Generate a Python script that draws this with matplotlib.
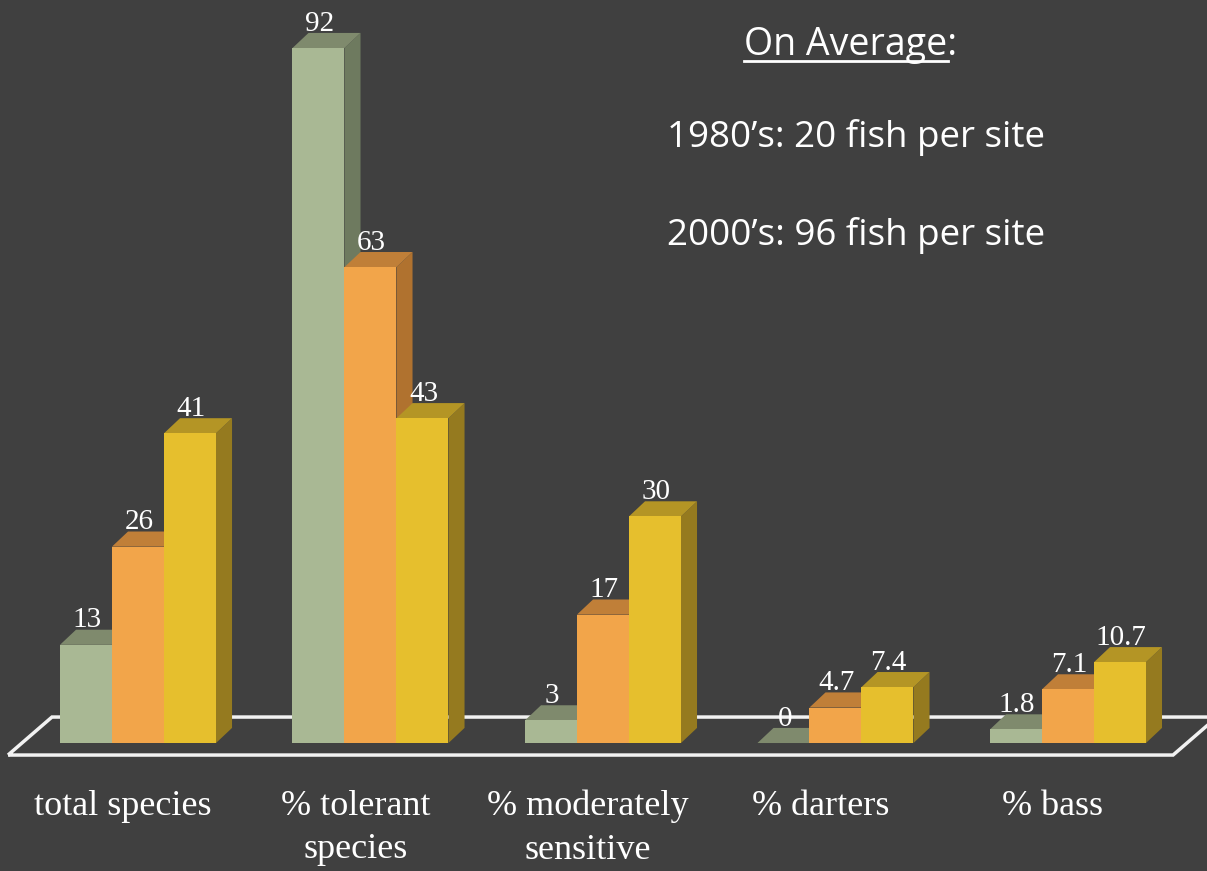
import matplotlib.pyplot as plt
import matplotlib.patches as patches

# data
categories = ["total species", "% tolerant\nspecies", "% moderately\nsensitive", "% darters", "% bass"]
series_names = ["1980s", "1990s", "2000s"]
vals_1980 = [13, 92, 3, 0, 1.8]
vals_1990 = [26, 63, 17, 4.7, 7.1]
vals_2000 = [41, 43, 30, 7.4, 10.7]
note_lines = ["1980\u2019s: 20 fish per site", "2000\u2019s: 96 fish per site"]

bg = "#404040"
# (front, top, side) shades per series
shades = [
    ("#a9b894", "#7f8a6d", "#6e7a5f"),
    ("#f2a54a", "#c07f38", "#b0722f"),
    ("#e6bf2d", "#b49525", "#957a1f"),
]

bw = 0.2237      # bar width in group units
dx, dy = 0.069, 2.0   # fake depth offset

fig = plt.figure(figsize=(12.07, 8.71), dpi=100)
fig.patch.set_facecolor(bg)
ax = fig.add_axes([0, 0, 1, 1])
ax.set_facecolor(bg)
ax.set_xlim(-0.5935, 4.598)
ax.set_ylim(-16.94, 98.36)
ax.axis("off")

# floor
floor = patches.Polygon([(-0.559, -1.59), (4.452, -1.59), (4.641, 3.44), (-0.370, 3.44)],
                        closed=True, fill=False, edgecolor="#f2f2f2", linewidth=2.5, zorder=1)
ax.add_patch(floor)

all_vals = [vals_1980, vals_1990, vals_2000]
z = 2
for i in range(len(categories)):
    for k, vals in enumerate(all_vals):
        v = vals[i]
        x0 = i + (k - 1.5) * bw
        front_c, top_c, side_c = shades[k]
        ax.bar(x0, v, width=bw, align="edge", color=front_c, zorder=z + 0.2)
        top = patches.Polygon([(x0, v), (x0 + bw, v), (x0 + bw + dx, v + dy), (x0 + dx, v + dy)],
                              closed=True, facecolor=top_c, edgecolor="none", zorder=z + 0.1)
        side = patches.Polygon([(x0 + bw, 0), (x0 + bw + dx, dy), (x0 + bw + dx, v + dy), (x0 + bw, v)],
                               closed=True, facecolor=side_c, edgecolor="none", zorder=z)
        ax.add_patch(top)
        ax.add_patch(side)
        ax.text(x0 + bw / 2 + 0.005, v + dy + 0.3, f"{v:g}", ha="center", va="baseline",
                color="white", fontsize=21, family="Liberation Serif", zorder=20)
        z += 1

# category labels
for i, cat in enumerate(categories):
    ax.text(i - 0.065, -6.2, cat, ha="center", va="top", color="white",
            fontsize=26, family="Liberation Serif", linespacing=1.42)

# annotation on the right
t = fig.text(851 / 1207, 1 - 45 / 871, "On Average:", ha="center", va="center",
             color="white", fontsize=27, family="Open Sans")
for j, line in enumerate(note_lines):
    fig.text(856 / 1207, 1 - (138 + 97 * j) / 871, line, ha="center", va="center",
             color="white", fontsize=26.5, family="Open Sans")

# underline "On Average" (not the colon)
fig.canvas.draw()
r = fig.canvas.get_renderer()
bb = t.get_window_extent(r)
tmp = fig.text(0, 0, "On Average", fontsize=27, family="Open Sans")
w = tmp.get_window_extent(r).width
tmp.remove()
uy = (bb.y0 + 3) / fig.bbox.height
fig.add_artist(plt.Line2D([bb.x0 / fig.bbox.width, (bb.x0 + w) / fig.bbox.width], [uy, uy],
                          color="white", linewidth=2))

fig.savefig("out.png", dpi=100, facecolor=bg)
